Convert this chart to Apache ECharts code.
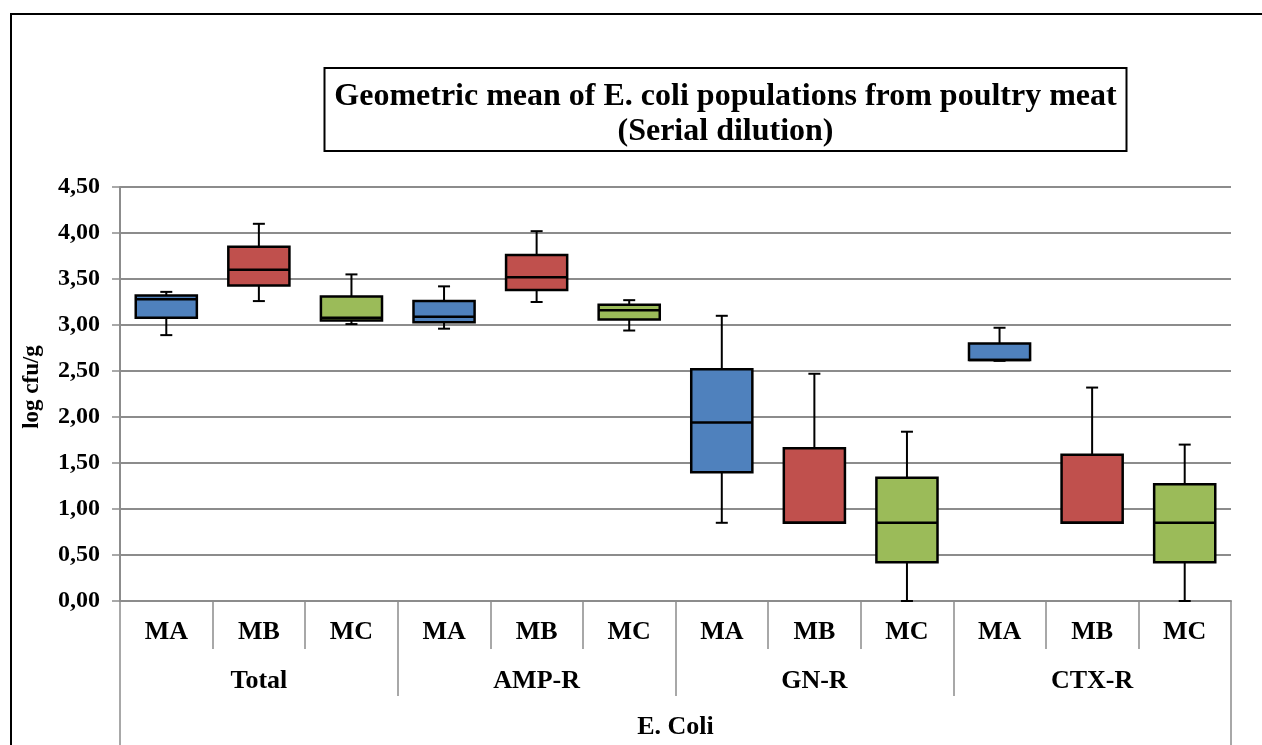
<!DOCTYPE html>
<html><head><meta charset="utf-8">
<script src="https://cdn.jsdelivr.net/npm/echarts@6/dist/echarts.min.js"></script>
<style>html,body{margin:0;padding:0;background:#fff}#chart{width:1262px;height:745px}</style>
</head><body><div id="chart"></div>
<script>
const categories = ['MA','MB','MC','MA','MB','MC','MA','MB','MC','MA','MB','MC'];
const groups = ['Total','AMP-R','GN-R','CTX-R'];
const superGroup = ['E. Coli'];
const boxMin = [2.89, 3.26, 3.01, 2.96, 3.25, 2.94, 0.85, 0.85, 0.00, 2.61, 0.85, 0.00];
const boxQ1  = [3.08, 3.43, 3.05, 3.03, 3.38, 3.06, 1.40, 0.85, 0.42, 2.62, 0.85, 0.42];
const boxMed = [3.28, 3.60, 3.08, 3.09, 3.52, 3.16, 1.94, 0.85, 0.85, 2.62, 0.85, 0.85];
const boxQ3  = [3.32, 3.85, 3.31, 3.26, 3.76, 3.22, 2.52, 1.66, 1.34, 2.80, 1.59, 1.27];
const boxMax = [3.36, 4.10, 3.55, 3.42, 4.02, 3.27, 3.10, 2.47, 1.84, 2.97, 2.32, 1.70];
const yTickLabels = ['0,00','0,50','1,00','1,50','2,00','2,50','3,00','3,50','4,00','4,50'];
const colors = ['#4F81BD', '#C0504D', '#9BBB59'];

const FONT = '"Liberation Serif", "Times New Roman", serif';
const boxData = categories.map((c, i) => [i, boxMin[i], boxQ1[i], boxMed[i], boxQ3[i], boxMax[i]]);

function renderBox(params, api) {
  const i = api.value(0);
  const x = api.coord([i, 0])[0];
  const band = api.size([1, 0])[0];
  const bw = band * 0.66;
  const yv = k => api.coord([i, api.value(k)])[1];
  const yMin = yv(1), yQ1 = yv(2), yMed = yv(3), yQ3 = yv(4), yMax = yv(5);
  const cap = 6;
  const ls = {stroke: '#000', lineWidth: 2};
  return {type: 'group', children: [
    {type: 'line', shape: {x1: x, y1: yMax, x2: x, y2: yQ3}, style: ls},
    {type: 'line', shape: {x1: x, y1: yQ1, x2: x, y2: yMin}, style: ls},
    {type: 'line', shape: {x1: x - cap, y1: yMax, x2: x + cap, y2: yMax}, style: ls},
    {type: 'line', shape: {x1: x - cap, y1: yMin, x2: x + cap, y2: yMin}, style: ls},
    {type: 'rect', shape: {x: x - bw / 2, y: yQ3, width: bw, height: yQ1 - yQ3},
      style: {fill: colors[i % 3], stroke: '#000', lineWidth: 2.5}},
    {type: 'line', shape: {x1: x - bw / 2, y1: yMed, x2: x + bw / 2, y2: yMed},
      style: {stroke: '#000', lineWidth: 2.5}}
  ]};
}

const labelBase = {fontFamily: FONT, fontWeight: 'bold', color: '#000', fontSize: 26};
const gray = '#8c8c8c';

const chart = echarts.init(document.getElementById('chart'), null, {renderer: 'canvas'});
chart.setOption({
  backgroundColor: '#fff',
  animation: false,
  title: {
    text: 'Geometric mean of E. coli populations from poultry meat\n(Serial dilution)',
    textAlign: 'center',
    left: 715.5,
    top: 68,
    padding: [11, 10, 2, 10],
    borderColor: '#000',
    borderWidth: 2,
    backgroundColor: '#fff',
    textStyle: {fontFamily: FONT, fontWeight: 'bold', fontSize: 32, lineHeight: 35, color: '#000'}
  },
  graphic: [{
    type: 'rect', z: -10, silent: true,
    shape: {x: 11, y: 14, width: 1300, height: 800},
    style: {fill: 'none', stroke: '#000', lineWidth: 2}
  }],
  grid: {left: 120, right: 31, top: 187, bottom: 144, containLabel: false},
  xAxis: [
    {
      type: 'category', data: categories, position: 'bottom',
      axisLine: {show: true, lineStyle: {color: gray, width: 2}},
      axisTick: {show: true, interval: 0, length: 48, lineStyle: {color: gray, width: 1.5}},
      axisLabel: Object.assign({interval: 0, margin: 18}, labelBase),
      splitLine: {show: false}
    },
    {
      type: 'category', data: groups, position: 'bottom',
      axisLine: {show: false},
      axisTick: {show: true, interval: 0, length: 95, lineStyle: {color: gray, width: 1.5}},
      axisLabel: Object.assign({interval: 0, margin: 67}, labelBase),
      splitLine: {show: false}
    },
    {
      type: 'category', data: superGroup, position: 'bottom',
      axisLine: {show: false},
      axisTick: {show: true, interval: 0, length: 150, lineStyle: {color: gray, width: 1.5}},
      axisLabel: Object.assign({interval: 0, margin: 113}, labelBase),
      splitLine: {show: false}
    }
  ],
  yAxis: {
    type: 'value', min: 0, max: 4.5, interval: 0.5,
    name: 'log cfu/g', nameLocation: 'middle', nameGap: 76, nameRotate: 90,
    nameTextStyle: {fontFamily: FONT, fontWeight: 'bold', fontSize: 23, color: '#000', padding: [0, 0, 0, 14]},
    axisLine: {show: true, lineStyle: {color: gray, width: 2}},
    axisTick: {show: true, length: 8, lineStyle: {color: gray, width: 1.5}},
    axisLabel: {fontFamily: FONT, fontWeight: 'bold', fontSize: 24, color: '#000', margin: 20,
      formatter: v => yTickLabels[Math.round(v / 0.5)]},
    splitLine: {show: true, lineStyle: {color: gray, width: 2}}
  },
  series: [{
    type: 'custom',
    xAxisIndex: 0,
    renderItem: renderBox,
    encode: {x: 0, y: [1, 2, 3, 4, 5]},
    data: boxData,
    z: 5
  }]
});
</script></body></html>
